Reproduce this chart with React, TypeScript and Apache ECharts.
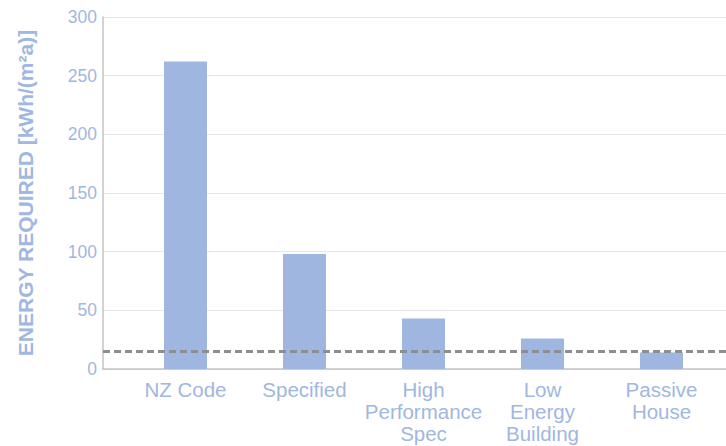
import React, { useEffect, useRef } from "react";
import * as echarts from "echarts";

const categories = ["NZ Code", "Specified", "High\nPerformance\nSpec", "Low\nEnergy\nBuilding", "Passive\nHouse"];
const energyValues = [262, 98, 43, 26, 14];
const threshold = 15;
const yTicks = { min: 0, max: 300, interval: 50 };

const LABEL = "#a0b7e1";
const BAR = "#9fb7e0";
const FONT = "'Liberation Sans', Arial, Helvetica, sans-serif";

export default function App() {
  const ref = useRef<HTMLDivElement>(null);
  useEffect(() => {
    const chart = echarts.init(ref.current!, null, { renderer: "svg" });
    chart.setOption({
      animation: false,
      backgroundColor: "#ffffff",
      grid: [
        { left: 103, right: -18, top: 17, bottom: 77 },
        { left: 126, width: 595, top: 17, bottom: 77 },
      ],
      xAxis: [
        {
          gridIndex: 0,
          type: "value",
          min: 0,
          max: 1,
          axisLine: { show: true, lineStyle: { color: "#c4c4c4", width: 1.5 } },
          axisTick: { show: false },
          axisLabel: { show: false },
          splitLine: { show: false },
        },
        {
          gridIndex: 1,
          type: "category",
          data: categories,
          axisLine: { show: false },
          axisTick: { show: false },
          axisLabel: {
            color: LABEL,
            fontSize: 20.5,
            fontFamily: FONT,
            lineHeight: 22,
            margin: 9,
            interval: 0,
          },
        },
      ],
      yAxis: [
        {
          gridIndex: 0,
          type: "value",
          min: yTicks.min,
          max: yTicks.max,
          interval: yTicks.interval,
          name: "ENERGY REQUIRED [kWh/(m²a)]",
          nameLocation: "middle",
          nameGap: 67,
          nameTextStyle: { color: LABEL, fontSize: 21, fontWeight: "bold", fontFamily: FONT },
          axisLine: { show: true, lineStyle: { color: "#c4c4c4", width: 1.5 } },
          axisTick: { show: false },
          axisLabel: { color: LABEL, fontSize: 17.5, fontFamily: FONT, margin: 6 },
          splitLine: { show: true, lineStyle: { color: "#e6e6e6", width: 1 } },
        },
        {
          gridIndex: 1,
          type: "value",
          min: yTicks.min,
          max: yTicks.max,
          interval: yTicks.interval,
          show: false,
          splitLine: { show: false },
        },
      ],
      series: [
        {
          type: "bar",
          xAxisIndex: 1,
          yAxisIndex: 1,
          data: energyValues,
          barWidth: 43,
          itemStyle: { color: BAR },
        },
        {
          type: "line",
          xAxisIndex: 0,
          yAxisIndex: 0,
          data: [
            [0, threshold],
            [1, threshold],
          ],
          symbol: "none",
          lineStyle: { color: "#8e8e8e", width: 3, type: [7, 4] },
          z: 5,
        },
      ],
    });
    return () => chart.dispose();
  }, []);
  return (
    <div
      ref={ref}
      style={{ position: "fixed", left: 0, top: 0, width: 726, height: 446 }}
    />
  );
}
